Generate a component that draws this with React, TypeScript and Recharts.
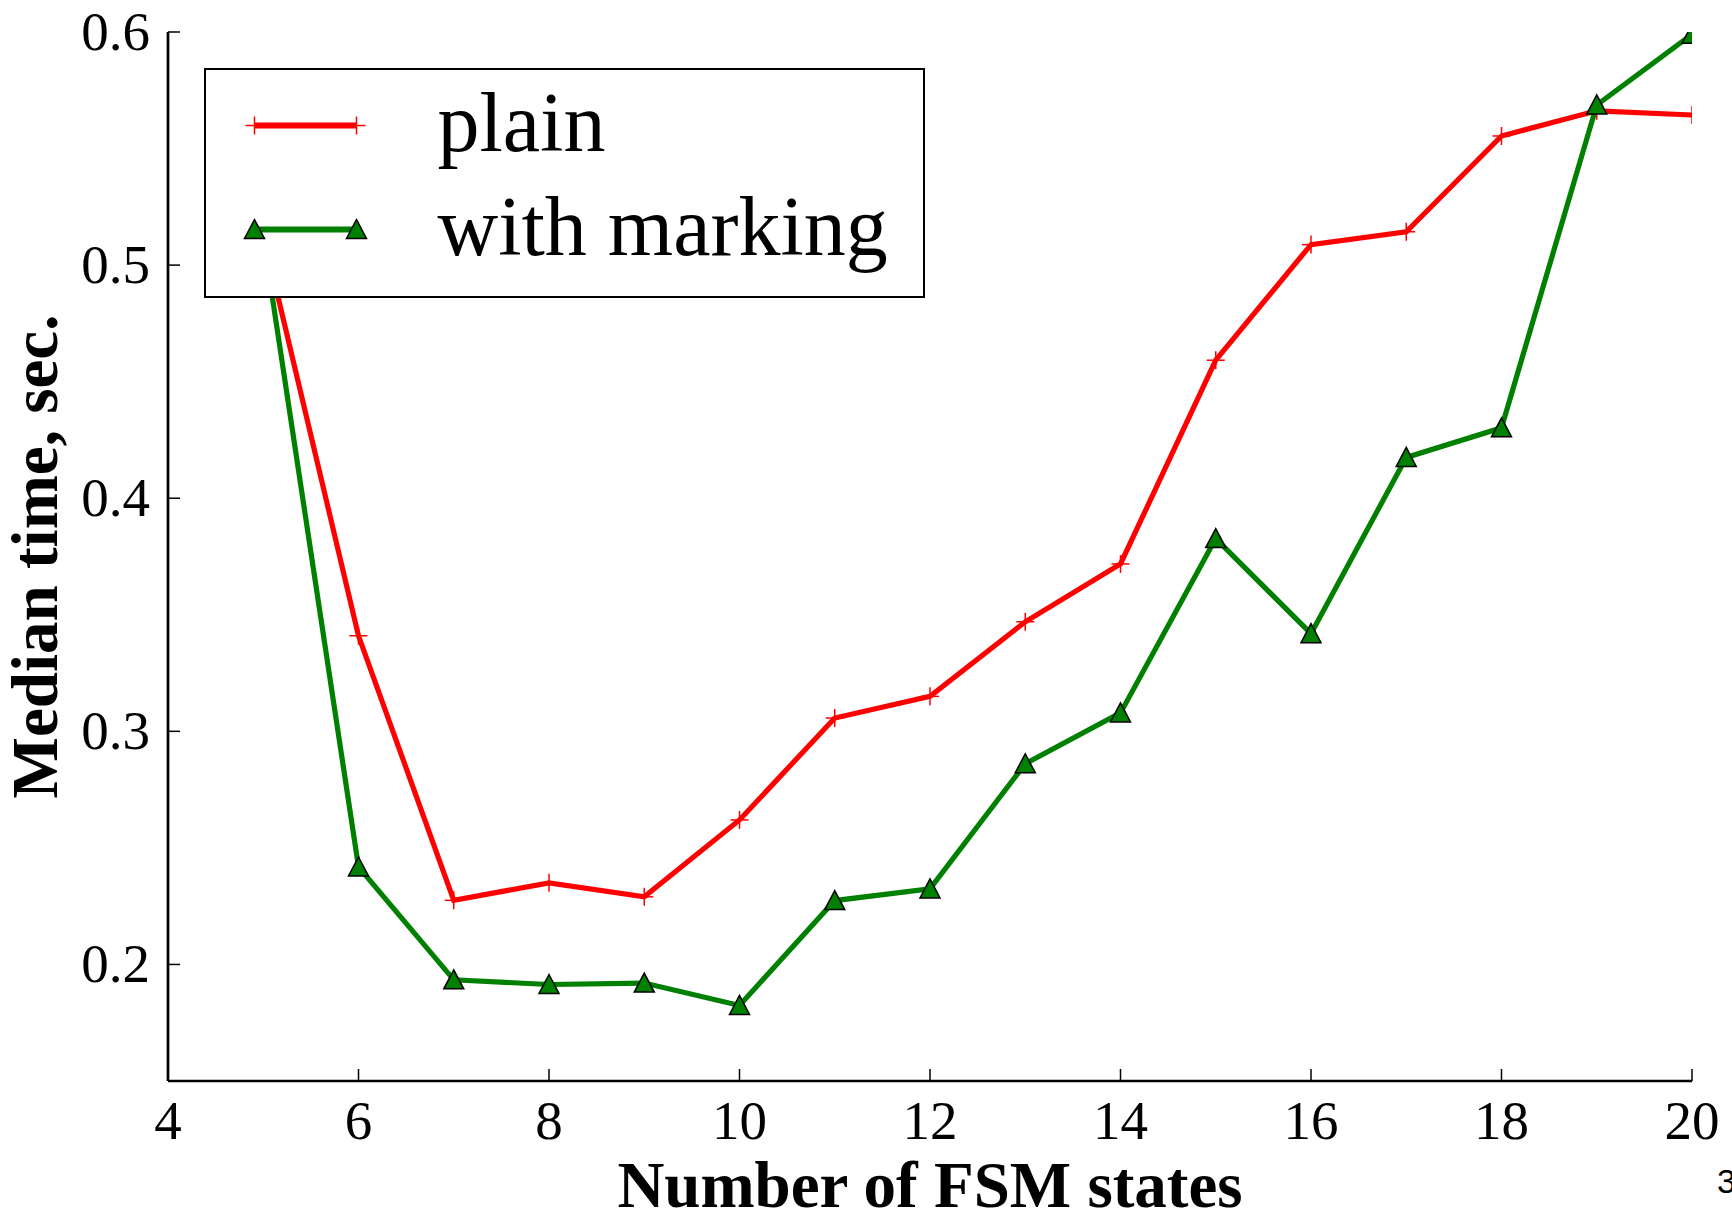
import React from 'react';
import { LineChart, Line, XAxis, YAxis, Legend } from 'recharts';

// ---- data ----
const states = [5, 6, 7, 8, 9, 10, 11, 12, 13, 14, 15, 16, 17, 18, 19, 20];
const plainTimes = [0.513, 0.341, 0.2275, 0.235, 0.229, 0.262, 0.3057, 0.315, 0.347, 0.3718, 0.4592, 0.5088, 0.5143, 0.5554, 0.5662, 0.5644];
const markingTimes = [0.512, 0.2418, 0.1934, 0.1914, 0.192, 0.1824, 0.2274, 0.2324, 0.2861, 0.3079, 0.3827, 0.3419, 0.4175, 0.4302, 0.5687, 0.599];
const xTicks = [4, 6, 8, 10, 12, 14, 16, 18, 20];
const yTicks = [0.2, 0.3, 0.4, 0.5, 0.6];
const xDomain = [4, 20];
const yDomain = [0.15, 0.6];
const seriesNames = ['plain', 'with marking'];
const xTitle = 'Number of FSM states';
const yTitle = 'Median time, sec.';
const pageNumber = '3';

const data = states.map((s, i) => ({ states: s, plain: plainTimes[i], marking: markingTimes[i] }));

// ---- layout / style ----
const W = 1732;
const H = 1217;
const LEFT = 168;
const TOP = 32;
const RIGHT = 40;
const BOTTOM = 136;
const TICK = 12;
const Y_MARGIN = 18;
const LINE_W = 5.2;
const SERIF = '"Liberation Serif", "Times New Roman", serif';
const RED = '#ff0000';
const GREEN = '#008000';

const LeftTick = (props: any) => {
  const { x, y, payload } = props;
  const ax = x + Y_MARGIN;
  return (
    <g>
      <line x1={ax} x2={ax + TICK} y1={y} y2={y} stroke="#000" strokeWidth={1.5} />
      <text x={x} y={y + 18} textAnchor="end" fontFamily={SERIF} fontSize={55} fill="#000">
        {Number(payload.value).toFixed(1)}
      </text>
    </g>
  );
};

const RightTick = (props: any) => {
  const { x, y } = props;
  return <line x1={x} x2={x - TICK} y1={y} y2={y} stroke="#000" strokeWidth={1.5} />;
};

const BottomTick = (props: any) => {
  const { x, y, payload } = props;
  return (
    <g>
      <line x1={x} x2={x} y1={y} y2={y - TICK} stroke="#000" strokeWidth={1.5} />
      <text x={x} y={y + 58} textAnchor="middle" fontFamily={SERIF} fontSize={55} fill="#000">
        {payload.value}
      </text>
    </g>
  );
};

const TopTick = (props: any) => {
  const { x, y } = props;
  return <line x1={x} x2={x} y1={y} y2={y + TICK} stroke="#000" strokeWidth={1.5} />;
};

const XTitle = (props: any) => {
  const vb = props.viewBox || { x: LEFT, y: H - BOTTOM, width: W - LEFT - RIGHT, height: BOTTOM };
  return (
    <text x={vb.x + vb.width / 2} y={vb.y + vb.height - 10} textAnchor="middle" fontFamily={SERIF}
      fontWeight="bold" fontSize={65} fill="#000">
      {xTitle}
    </text>
  );
};

const YTitle = (props: any) => {
  const vb = props.viewBox || { x: 0, y: TOP, width: LEFT, height: H - TOP - BOTTOM };
  const cx = vb.x + 57;
  const cy = vb.y + vb.height / 2;
  return (
    <text x={cx} y={cy} transform={`rotate(-90, ${cx}, ${cy})`} textAnchor="middle" fontFamily={SERIF}
      fontWeight="bold" fontSize={65} fill="#000">
      {yTitle}
    </text>
  );
};

const PlusDot = (props: any) => {
  const { cx, cy, index } = props;
  if (cx == null || cy == null) return <g key={`p${index}`} />;
  return (
    <g key={`p${index}`}>
      <line x1={cx - 9} x2={cx + 9} y1={cy} y2={cy} stroke={RED} strokeWidth={1.5} />
      <line x1={cx} x2={cx} y1={cy - 9} y2={cy + 9} stroke={RED} strokeWidth={1.5} />
    </g>
  );
};

const TriDot = (props: any) => {
  const { cx, cy, index } = props;
  if (cx == null || cy == null) return <g key={`t${index}`} />;
  return (
    <polygon key={`t${index}`} points={`${cx},${cy - 10} ${cx - 10},${cy + 9} ${cx + 10},${cy + 9}`}
      fill={GREEN} stroke="#000" strokeWidth={1.5} strokeLinejoin="miter" />
  );
};

const LegendBox = (props: any) => {
  const payload = props.payload || [];
  const rows = [55.5, 159.5];
  const baselines = [81, 184.5];
  return (
    <div style={{ width: 721, height: 230, boxSizing: 'border-box', border: '2.7px solid #000', background: '#fff', position: 'relative' }}>
      <svg width={716} height={225} style={{ position: 'absolute', left: 0, top: 0 }}>
        {payload.map((p: any, i: number) => {
          const cy = rows[i] ?? rows[0];
          const isPlain = p.dataKey === 'plain';
          const color = p.color || (isPlain ? RED : GREEN);
          return (
            <g key={i}>
              <line x1={48.5} x2={150.5} y1={cy} y2={cy} stroke={color} strokeWidth={LINE_W + 0.8} />
              {isPlain ? (
                <>
                  <PlusDot cx={48.5} cy={cy} index={0} />
                  <PlusDot cx={150.5} cy={cy} index={1} />
                </>
              ) : (
                <>
                  <TriDot cx={48.5} cy={cy} index={0} />
                  <TriDot cx={150.5} cy={cy} index={1} />
                </>
              )}
              <text x={231.5} y={baselines[i] ?? baselines[0]} fontFamily={SERIF} fontSize={84} fill="#000">
                {p.value}
              </text>
            </g>
          );
        })}
      </svg>
    </div>
  );
};

export default function App() {
  return (
    <div style={{ position: 'absolute', left: 0, top: 0, width: W, height: H, background: '#fff' }}>
      <LineChart width={W} height={H} data={data} margin={{ top: TOP, right: RIGHT, bottom: 0, left: 0 }}>
        <XAxis dataKey="states" type="number" domain={xDomain} ticks={xTicks} allowDataOverflow
          height={BOTTOM} tickSize={0} tickMargin={0} tickLine={false}
          axisLine={{ stroke: '#000', strokeWidth: 2.7 }} tick={<BottomTick />} interval={0}
          label={<XTitle />} />
        <XAxis xAxisId="top" orientation="top" type="number" domain={xDomain} ticks={xTicks} allowDataOverflow
          height={0} tickSize={0} tickMargin={0} tickLine={false}
          axisLine={{ stroke: '#000', strokeWidth: 2.7 }} tick={<TopTick />} interval={0} />
        <YAxis type="number" domain={yDomain} ticks={yTicks} allowDataOverflow width={LEFT}
          tickSize={0} tickMargin={Y_MARGIN} tickLine={false}
          axisLine={{ stroke: '#000', strokeWidth: 2.7 }} tick={<LeftTick />} interval={0}
          label={<YTitle />} />
        <YAxis yAxisId="right" orientation="right" type="number" domain={yDomain} ticks={yTicks} allowDataOverflow
          width={0} tickSize={0} tickMargin={0} tickLine={false}
          axisLine={{ stroke: '#000', strokeWidth: 2.7 }} tick={<RightTick />} interval={0} />
        <Line dataKey="plain" name={seriesNames[0]} stroke={RED} strokeWidth={LINE_W} dot={PlusDot}
          activeDot={false} isAnimationActive={false} strokeLinejoin="miter" />
        <Line dataKey="marking" name={seriesNames[1]} stroke={GREEN} strokeWidth={LINE_W} dot={TriDot}
          activeDot={false} isAnimationActive={false} strokeLinejoin="miter" />
        <Legend layout="horizontal" verticalAlign="middle" align="center" content={<LegendBox />}
          wrapperStyle={{ left: 204, top: 68, width: 721, height: 230 }} />
      </LineChart>
      <svg width={W} height={H} style={{ position: 'absolute', left: 0, top: 0, pointerEvents: 'none' }}>
        <text x={1717} y={1193} fontFamily='"Liberation Sans", Arial, sans-serif' fontSize={34} fill="#000">
          {pageNumber}
        </text>
      </svg>
    </div>
  );
}
